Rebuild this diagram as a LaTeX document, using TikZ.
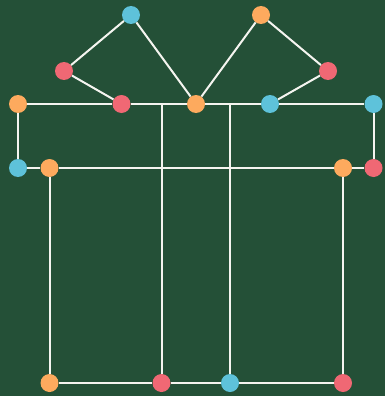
\documentclass[tikz,border=0pt]{standalone}
\definecolor{bg}{HTML}{245037}
\definecolor{cblue}{HTML}{5EC2DA}
\definecolor{corange}{HTML}{FDAA5E}
\definecolor{cred}{HTML}{F06874}
\definecolor{edge}{HTML}{F5F5F0}
\begin{document}
\begin{tikzpicture}[x=1pt,y=-1pt,
  dot/.style={circle,inner sep=0pt,minimum size=18pt,fill=#1},
  ln/.style={draw=edge,line width=2pt}]
\fill[bg] (0,0) rectangle (385,396);
\useasboundingbox (0,0) rectangle (385,396);
% free upper ends of the two inner verticals
\coordinate (t1) at (162,104);
\coordinate (t2) at (230,104);
\node[dot=cblue] (b1) at (131,15) {};
\node[dot=corange] (o1) at (261,15) {};
\node[dot=cred] (r1) at (64,71) {};
\node[dot=cred] (r2) at (328,71) {};
\node[dot=corange] (o2) at (18,104) {};
\node[dot=cred] (r3) at (121.5,104) {};
\node[dot=corange] (o3) at (196,104) {};
\node[dot=cblue] (b2) at (270,104) {};
\node[dot=cblue] (b3) at (373.5,104) {};
\node[dot=cblue] (b4) at (18,168) {};
\node[dot=corange] (o4) at (49.5,168) {};
\node[dot=corange] (o5) at (343,168) {};
\node[dot=cred] (r4) at (373.5,168) {};
\node[dot=corange] (o6) at (49.5,383) {};
\node[dot=cred] (r5) at (161.5,383) {};
\node[dot=cblue] (b5) at (230,383) {};
\node[dot=cred] (r6) at (343,383) {};
\begin{scope}[ln]
\draw (b1) -- (r1);
\draw (r1) -- (r3);
\draw (b1) -- (o3);
\draw (o1) -- (o3);
\draw (o1) -- (r2);
\draw (r2) -- (b2);
\draw (o2) -- (r3);
\draw (r3) -- (o3);
\draw (o3) -- (b2);
\draw (b2) -- (b3);
\draw (o2) -- (b4);
\draw (b3) -- (r4);
\draw (b4) -- (o4);
\draw (o4) -- (o5);
\draw (o5) -- (r4);
\draw (o4) -- (o6);
\draw (o5) -- (r6);
\draw (o6) -- (r5);
\draw (r5) -- (b5);
\draw (b5) -- (r6);
\draw (t1) -- (t1 |- r5.north);
\draw (t2) -- (b5);
\end{scope}
\end{tikzpicture}
\end{document}
